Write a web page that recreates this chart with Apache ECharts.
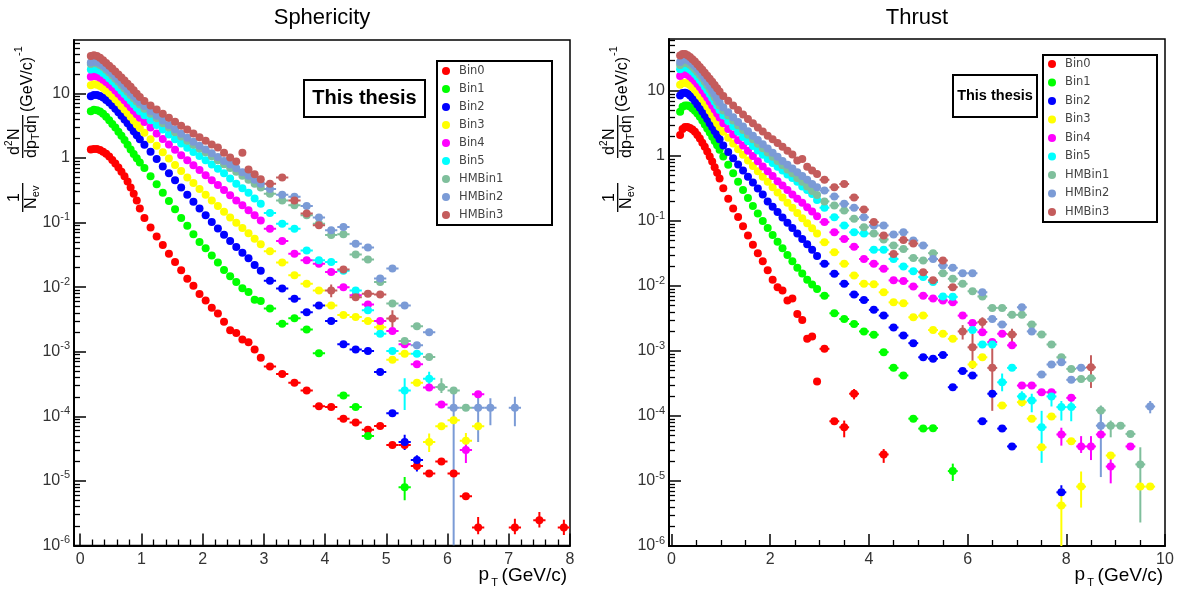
<!DOCTYPE html>
<html><head><meta charset="utf-8">
<script src="https://cdn.jsdelivr.net/npm/echarts@6/dist/echarts.min.js"></script>
<style>html,body{margin:0;padding:0;background:#fff}#c{width:1184px;height:597px}</style>
</head><body><div id="c"></div>
<script>
const FONT = '"Liberation Sans", Arial, Helvetica, sans-serif';
const LEGFONT = '"DejaVu Sans", sans-serif';

const seriesNames = ['Bin0','Bin1','Bin2','Bin3','Bin4','Bin5','HMBin1','HMBin2','HMBin3'];
const seriesColors = ['#ff0000','#00ff00','#0000ff','#ffff00','#ff00ff','#00ffff','#7fbf9c','#7b9bd6','#c45c5c'];

// pT bin centres (GeV/c)
const ptCenters = [0.175,0.225,0.275,0.325,0.375,0.425,0.475,0.525,0.575,0.625,0.675,0.725,0.775,0.825,0.875,0.925,0.975,
1.05,1.15,1.25,1.35,1.45,1.55,1.65,1.75,1.85,1.95,2.05,2.15,2.25,2.35,2.45,2.55,2.65,2.75,2.85,2.95,
3.1,3.3,3.5,3.7,3.9,4.1,4.3,4.5,4.7,4.9,5.1,5.3,5.5,5.7,5.9,6.1,6.3,6.5,6.7,6.9,7.1,7.3,7.5,7.7,7.9,8.1,8.3,8.5,8.7,8.9,9.1,9.3,9.5,9.7];

// ---- Sphericity panel ----
const sphBin0 = [1.35,1.38,1.37,1.33,1.25,1.16,1.05,0.93,0.82,0.71,0.61,0.52,0.43,0.35,0.28,0.22,0.165,
0.118,0.084,0.061,0.045,0.033,0.0245,0.0183,0.0135,0.0105,0.0078,0.0062,0.0048,0.0039,0.0029,0.00215,0.00195,0.00154,0.0014,0.00108,8.1e-4,
5.9e-4,4.5e-4,3.3e-4,2.5e-4,1.43e-4,1.39e-4,9.2e-5,8.0e-5,6.2e-5,7.1e-5,3.6e-5,3.6e-5,1.7e-5,1.3e-5,2.0e-5,1.3e-5,5.8e-6,1.9e-6,null,null,1.9e-6,null,2.45e-6,null,1.9e-6];
const sphBin1 = [5.3,5.55,5.5,5.25,4.85,4.35,3.85,3.35,2.95,2.55,2.2,1.9,1.6,1.35,1.15,0.99,0.85,
0.7,0.52,0.39,0.29,0.215,0.16,0.118,0.089,0.066,0.05,0.04,0.031,0.024,0.0185,0.0147,0.012,0.0096,0.0084,0.0064,0.0061,
0.00465,0.0027,0.0033,0.0022,9.5e-4,null,2.1e-4,1.39e-4,4.95e-5,null,null,8e-6];
const sphBin2 = [9.0,9.4,9.4,9.1,8.6,7.9,7.2,6.5,5.8,5.1,4.5,3.95,3.45,3.0,2.6,2.25,1.95,
1.6,1.25,0.96,0.74,0.58,0.45,0.35,0.27,0.21,0.165,0.13,0.102,0.081,0.065,0.052,0.042,0.034,0.028,0.022,0.018,
0.0125,0.0095,0.0066,0.0041,0.0052,0.003,0.0013,0.00108,0.00103,4.85e-4,1.12e-4,4e-5,2.1e-5];
const sphBin3 = [13.4,13.8,13.6,13.0,12.1,11.1,10.1,9.1,8.1,7.2,6.4,5.6,4.95,4.35,3.8,3.3,2.9,
2.45,1.95,1.55,1.23,0.98,0.78,0.63,0.5,0.41,0.33,0.27,0.22,0.18,0.147,0.12,0.099,0.082,0.068,0.056,0.046,
0.036,0.024,0.0153,0.0113,0.0089,0.0052,0.0037,0.00345,0.003,0.0024,7.5e-4,9.3e-4,3.3e-4,4e-5,7e-5,8.7e-5,4.2e-5,7e-5];
const sphBin4 = [18,18.6,18.3,17.5,16.3,15.0,13.7,12.4,11.1,9.9,8.8,7.8,6.9,6.1,5.4,4.75,4.2,
3.6,2.95,2.4,1.97,1.62,1.34,1.1,0.92,0.77,0.65,0.54,0.45,0.38,0.32,0.265,0.22,0.185,0.155,0.13,0.108,
0.08,0.052,0.033,0.026,0.023,0.0172,0.01,0.0075,0.0054,0.003,0.0021,0.0013,6.4e-4,2.8e-4,1.53e-4,null,3e-5,2.2e-4];
const sphBin5 = [23.4,24.0,23.5,22.3,20.7,19.0,17.2,15.5,13.9,12.4,11.0,9.8,8.7,7.7,6.8,6.0,5.3,
4.6,3.85,3.25,2.75,2.3,1.95,1.68,1.44,1.24,1.07,0.92,0.79,0.68,0.58,0.48,0.4,0.34,0.29,0.235,0.195,
0.14,0.096,0.08,0.037,0.026,0.0245,0.018,0.0089,0.0044,0.0019,0.00103,2.5e-4,9.3e-4,3.8e-4];
const sphHMBin1 = [28.5,29.5,29,27.6,25.5,23.2,21.0,18.9,16.9,15.1,13.4,11.9,10.6,9.4,8.4,7.5,6.7,
5.8,4.85,4.1,3.45,2.95,2.5,2.15,1.85,1.6,1.4,1.22,1.06,0.92,0.8,0.7,0.61,0.53,0.46,0.4,0.35,
0.28,0.22,0.185,0.13,0.096,0.064,0.066,0.032,0.0267,0.012,0.0056,0.00147,0.00247,8.3e-4,2.84e-4,2.52e-4,1.36e-4];
const sphHMBin2 = [30,31,30.5,29.2,27.1,24.8,22.6,20.4,18.3,16.4,14.6,13.0,11.6,10.3,9.2,8.2,7.3,
6.35,5.3,4.5,3.8,3.25,2.78,2.38,2.05,1.78,1.55,1.35,1.18,1.03,0.9,0.79,0.69,0.6,0.53,0.46,0.4,
0.33,0.27,0.25,0.18,0.12,0.076,0.085,0.047,0.041,0.0136,0.0194,0.0052,0.00126,0.002,null,1.36e-4,null,1.36e-4,1.36e-4,null,1.36e-4];
const sphHMBin3 = [38,39,38,35.5,32.5,29.5,26.8,24.2,21.8,19.6,17.6,15.8,14.1,12.6,11.2,9.9,8.8,
7.6,6.5,5.6,4.85,4.2,3.65,3.15,2.75,2.4,2.1,1.85,1.62,1.45,1.2,1.02,0.88,1.2,0.66,0.56,0.47,
0.4,0.5,0.22,0.138,0.091,0.0089,0.0187,0.007,0.0079,0.0077,0.00326];
// visible vertical error bars: [series, pT, low, high]
const sphErrors = [
['Bin0',6.5,1.5e-6,2.75e-6],['Bin0',7.1,1.5e-6,2.6e-6],['Bin0',7.5,1.9e-6,3.3e-6],['Bin0',7.9,1.45e-6,2.5e-6],
['Bin1',5.3,5e-6,1.15e-5],
['Bin2',5.3,3.0e-5,5.2e-5],['Bin2',5.5,1.4e-5,2.5e-5],
['Bin3',5.7,2.8e-5,5.4e-5],['Bin3',6.3,3.1e-5,5.5e-5],
['Bin4',6.3,1.9e-5,4.2e-5],
['Bin5',5.3,1.25e-4,3.9e-4],['Bin5',5.7,2.8e-4,4.9e-4],
['HMBin1',5.9,2.3e-4,3.9e-4],
['HMBin2',6.1,1e-6,2.5e-4],['HMBin2',6.5,4e-5,2.3e-4],['HMBin2',6.7,7.3e-5,1.9e-4],['HMBin2',7.1,7e-5,2.0e-4],
['HMBin3',4.1,7e-3,1.1e-2],['HMBin3',5.1,2.4e-3,4.4e-3]
];

// ---- Thrust panel ----
const thrBin0 = [2.1,2.6,2.8,2.8,2.7,2.55,2.35,2.1,1.85,1.6,1.38,1.17,0.98,0.82,0.67,0.55,0.45,
0.32,0.22,0.155,0.115,0.083,0.06,0.043,0.032,0.024,0.0175,0.0125,0.0096,0.0085,0.006,0.0064,0.0037,0.003,0.00154,0.00167,3.4e-4,
0.00108,8.3e-5,6.7e-5,2.2e-4,null,null,2.56e-5];
const thrBin1 = [4.8,5.7,6.0,6.0,5.75,5.35,4.95,4.5,4.0,3.5,3.05,2.65,2.3,1.98,1.7,1.46,1.25,
0.98,0.73,0.54,0.4,0.3,0.225,0.17,0.13,0.1,0.078,0.061,0.048,0.038,0.03,0.024,0.019,0.0155,0.0125,0.0105,0.009,
0.0071,0.0038,0.0031,0.0026,0.002,0.00178,9.6e-4,5.5e-4,4.2e-4,9.1e-5,6.4e-5,6.5e-5,null,1.42e-5];
const thrBin2 = [8.5,9.3,9.4,9.1,8.5,7.8,7.0,6.2,5.5,4.85,4.25,3.7,3.2,2.8,2.42,2.1,1.8,
1.45,1.15,0.92,0.74,0.6,0.48,0.39,0.315,0.255,0.2,0.165,0.137,0.113,0.094,0.078,0.064,0.053,0.044,0.036,0.029,
0.022,0.0154,0.0108,0.0074,0.0061,0.0043,0.0035,0.0023,0.00173,0.00132,8e-4,7.6e-4,8.7e-4,2.77e-4,4.9e-4,4.2e-4,8.3e-5,2.2e-4,6.4e-5,3.4e-5,null,null,null,null,6.7e-6];
const thrBin3 = [12.5,13.3,13.4,13.0,12.3,11.4,10.4,9.4,8.4,7.5,6.6,5.75,4.95,4.3,3.7,3.2,2.8,
2.35,1.9,1.55,1.27,1.04,0.85,0.7,0.58,0.48,0.4,0.33,0.275,0.23,0.19,0.16,0.133,0.11,0.092,0.077,0.064,
0.047,0.033,0.022,0.0145,0.0108,0.0106,0.008,0.0056,0.0054,0.0033,0.0035,0.0021,0.00184,0.00154,null,6.2e-4,8e-4,null,1.45e-4,null,1.63e-4,9.1e-5,3.3e-5,9.8e-5,4.2e-6,4.1e-5,8.2e-6,null,null,2.47e-5,null,null,8.2e-6,8.2e-6];
const thrBin4 = [17.0,18.0,18.2,17.7,16.7,15.5,14.2,12.8,11.5,10.2,9.0,7.9,6.9,6.0,5.2,4.5,3.9,
3.2,2.6,2.13,1.75,1.45,1.2,1.0,0.83,0.69,0.58,0.49,0.41,0.35,0.3,0.255,0.22,0.19,0.163,0.14,0.118,
0.096,0.067,0.053,0.04,0.026,0.022,0.0184,0.0122,0.0119,0.0098,0.0071,0.0064,0.006,0.0056,0.0035,0.0027,0.00195,0.00137,0.00184,0.00122,2.94e-4,2.94e-4,2.32e-4,2.32e-4,5.2e-5,1.9e-4,3.4e-5,3.4e-5,5.2e-5,1.67e-5,null,3.4e-5];
const thrBin5 = [21.5,23,23.2,22.6,21.4,19.9,18.2,16.5,14.8,13.2,11.7,10.3,9.0,7.8,6.8,5.9,5.1,
4.2,3.45,2.85,2.35,1.95,1.68,1.42,1.21,1.04,0.9,0.78,0.68,0.6,0.52,0.46,0.4,0.34,0.3,0.26,0.21,
0.16,0.114,0.085,0.067,0.064,0.036,0.036,0.026,0.02,0.0169,0.0137,0.0115,0.0069,0.0068,null,0.0021,0.00126,0.00126,3.3e-4,5.5e-4,2e-4,1.73e-4,6.7e-5,2e-4,1.37e-4,1.37e-4];
const thrHMBin1 = [25,27,27.5,26.8,25.3,23.5,21.6,19.6,17.6,15.7,13.9,12.2,10.6,9.2,8.0,6.9,6.0,
5.0,4.2,3.5,2.95,2.5,2.12,1.8,1.54,1.32,1.13,0.97,0.84,0.72,0.62,0.54,0.46,0.4,0.34,0.29,0.25,
0.2,0.173,0.145,0.108,0.08,0.064,0.052,0.042,0.037,0.027,0.0247,0.032,0.0157,0.0129,0.0108,0.0083,0.0069,0.0046,0.0046,0.0036,0.0036,0.00256,0.0018,0.00126,8e-4,5.3e-4,3.7e-4,3.8e-4,1.22e-4,7.1e-5,7.1e-5,5.3e-5,1.8e-5];
const thrHMBin2 = [28,30.2,30.8,30.0,28.3,26.3,24.2,22.0,19.7,17.6,15.6,13.7,11.9,10.3,9.0,7.7,6.7,
5.6,4.7,3.95,3.33,2.83,2.4,2.05,1.76,1.51,1.3,1.12,0.97,0.84,0.73,0.64,0.56,0.49,0.43,0.37,0.33,
0.294,0.238,0.184,0.16,0.114,0.085,0.085,0.062,0.067,0.05,0.042,0.026,0.0207,0.019,0.0157,0.0157,0.008,0.0031,0.00256,null,0.0047,0.002,4.35e-4,6.2e-4,6.7e-4,3.6e-4,5.5e-4,null,7.1e-5,null,null,null,null,1.4e-4];
const thrHMBin3 = [35,37,37,35.5,33.3,30.8,28.3,25.8,23.4,21.2,19.1,17.2,15.4,13.8,12.3,11.0,9.8,
8.4,7.1,6.0,5.1,4.35,3.7,3.2,2.75,2.37,2.05,1.8,1.58,1.38,1.2,1.05,0.85,0.9,0.68,0.6,0.53,
0.43,0.33,0.37,0.23,0.15,0.096,0.06,0.031,0.051,0.045,0.0163,0.0122,0.0247,0.0096,0.002,0.00114,0.0028,5.5e-4,null,0.0018,null,null,null,null,null,null,null,5.6e-4];
const thrErrors = [
['Bin0',3.5,4.7e-5,8.5e-5],['Bin0',4.3,1.9e-5,3.1e-5],['Bin0',3.7,1.8e-4,2.6e-4],
['Bin1',5.7,1.0e-5,1.85e-5],
['Bin2',7.9,6.0e-6,8.6e-6],
['Bin3',7.9,1.0e-6,7.7e-6],['Bin3',8.3,3.9e-6,1.4e-5],
['Bin4',7.9,3.5e-5,6.6e-5],['Bin4',8.3,2.7e-5,4.9e-5],['Bin4',8.5,2.1e-5,4.9e-5],['Bin4',8.9,9.2e-6,2.5e-5],
['Bin5',6.7,2.4e-4,4.5e-4],['Bin5',7.1,1.4e-4,2.4e-4],['Bin5',7.3,1.14e-4,2.2e-4],['Bin5',7.5,1.9e-5,1.2e-4],['Bin5',7.7,1.4e-4,2.4e-4],['Bin5',7.9,8.5e-5,1.7e-4],['Bin5',8.1,8.3e-5,1.9e-4],
['HMBin1',8.7,8.0e-5,1.45e-4],['HMBin1',8.9,4.7e-5,8.5e-5],['HMBin1',9.5,2.3e-6,3.3e-5],
['HMBin2',8.7,1.15e-5,1.4e-4],['HMBin2',9.7,1.1e-4,1.7e-4],
['HMBin3',5.9,1.5e-3,2.5e-3],['HMBin3',6.1,5.3e-4,1.85e-3],['HMBin3',6.3,2.2e-3,3.3e-3],['HMBin3',6.5,1.2e-4,1.1e-3],['HMBin3',6.9,1.2e-3,2.2e-3],['HMBin3',8.5,2.7e-4,8.6e-4]
];

// axis ticks
const sphXTicks = [0,1,2,3,4,5,6,7,8];
const thrXTicks = [0,2,4,6,8,10];
const yTicks = [1e-6,1e-5,1e-4,1e-3,1e-2,1e-1,1,10];

const sphValues = [sphBin0,sphBin1,sphBin2,sphBin3,sphBin4,sphBin5,sphHMBin1,sphHMBin2,sphHMBin3];
const thrValues = [thrBin0,thrBin1,thrBin2,thrBin3,thrBin4,thrBin5,thrHMBin1,thrHMBin2,thrHMBin3];

function halfWidth(x){ return x < 1 ? 0.025 : (x < 3 ? 0.05 : 0.1); }
function minorTicks(lo, hi, step, major){
  const out = [];
  for (let v = lo; v <= hi + 1e-9; v += step){ const r = Math.round(v*100)/100; if (major.indexOf(r) < 0) out.push(r); }
  return out;
}
function logMinor(maxV){
  const out = [];
  for (let e = -6; e <= 1; e++) for (let m = 2; m <= 9; m++){ const v = Number((m*Math.pow(10,e)).toPrecision(3)); if (v <= maxV) out.push(v); }
  return out;
}
function yLabel(v){
  const e = Math.round(Math.log10(v));
  if (e === 0) return '{b|1}';
  if (e === 1) return '{b|10}';
  return '{b|10}{s|' + e + '}';
}
const yRich = { b:{fontSize:16, fontFamily:FONT, color:'#333', lineHeight:22}, s:{fontSize:11, fontFamily:FONT, color:'#333', lineHeight:11, verticalAlign:'top'} };

function xAxes(grid, min, max, major, minorStep){
  return [
    {gridIndex:grid, type:'value', position:'bottom', min:min, max:max,
     axisLine:{show:true, onZero:false, lineStyle:{color:'#000', width:2}},
     axisTick:{show:true, inside:true, length:12, customValues:major, lineStyle:{color:'#000', width:1.5}},
     axisLabel:{show:true, customValues:major, fontSize:16, fontFamily:FONT, color:'#333', margin:6},
     splitLine:{show:false}},
    {gridIndex:grid, type:'value', position:'bottom', min:min, max:max,
     axisLine:{show:false, onZero:false},
     axisTick:{show:true, inside:true, length:6, customValues:minorTicks(0, max, minorStep, major), lineStyle:{color:'#000', width:1.3}},
     axisLabel:{show:false}, splitLine:{show:false}}
  ];
}
function yAxes(grid, maxV){
  return [
    {gridIndex:grid, type:'log', logBase:10, position:'left', min:1e-6, max:maxV,
     axisLine:{show:true, onZero:false, lineStyle:{color:'#000', width:2}},
     axisTick:{show:true, inside:true, length:12, customValues:yTicks, lineStyle:{color:'#000', width:1.5}},
     axisLabel:{show:true, customValues:yTicks, formatter:yLabel, rich:yRich, margin:4},
     splitLine:{show:false}},
    {gridIndex:grid, type:'log', logBase:10, position:'left', min:1e-6, max:maxV,
     axisLine:{show:false, onZero:false},
     axisTick:{show:true, inside:true, length:6, customValues:logMinor(maxV), lineStyle:{color:'#000', width:1.3}},
     axisLabel:{show:false}, splitLine:{show:false}}
  ];
}

function renderErr(params, api){
  const x = api.value(0), y = api.value(1), lo = api.value(2), hi = api.value(3), hw = api.value(4);
  const c = api.visual('color');
  const p = api.coord([x, y]);
  const a = api.coord([x - hw, y]), b = api.coord([x + hw, y]);
  const kids = [{type:'line', shape:{x1:a[0], y1:p[1], x2:b[0], y2:p[1]}, style:{stroke:c, lineWidth:2}}];
  if (lo > 0 && hi > 0){
    const t = api.coord([x, hi]), u = api.coord([x, lo]);
    kids.push({type:'line', shape:{x1:p[0], y1:t[1], x2:p[0], y2:u[1]}, style:{stroke:c, lineWidth:2}});
  }
  return {type:'group', children:kids};
}

const scatterSeries = [], errSeries = [];
function buildPanel(values, errs, axisIdx){
  values.forEach(function(arr, i){
    const name = seriesNames[i];
    const pts = [], eb = [];
    arr.forEach(function(v, k){
      if (v == null) return;
      const x = ptCenters[k];
      pts.push([x, v]);
      const e = errs.find(function(r){ return r[0] === name && Math.abs(r[1] - x) < 1e-6; });
      eb.push([x, v, e ? e[2] : 0, e ? e[3] : 0, halfWidth(x)]);
    });
    scatterSeries.push({type:'scatter', name:name, xAxisIndex:axisIdx, yAxisIndex:axisIdx, data:pts,
      symbol:'circle', symbolSize:8, itemStyle:{color:seriesColors[i], opacity:1}, z:3,
      emphasis:{disabled:true}, animation:false});
    errSeries.push({type:'custom', name:name, xAxisIndex:axisIdx, yAxisIndex:axisIdx, data:eb,
      encode:{x:0, y:1}, renderItem:renderErr, itemStyle:{color:seriesColors[i]}, z:2, clip:true, silent:true, animation:false});
  });
}
buildPanel(sphValues, sphErrors, 0);
buildPanel(thrValues, thrErrors, 2);

function legendFor(left, top, padTop, gap){
  return {orient:'vertical', left:left, top:top, padding:[padTop,4,4,5], itemWidth:16, itemHeight:8, itemGap:gap,
    icon:'circle', selectedMode:false,
    data:seriesNames.map(function(n){ return {name:n, icon:'circle'}; }),
    textStyle:{fontSize:11.5, fontFamily:LEGFONT, color:'#444', lineHeight:12}};
}

function yTitle(ax){
  const T = function(txt, x, y, size, align){ return {type:'text', x:x, y:y, style:{text:txt, font:size+'px '+FONT, fill:'#000', align:align||'left', textAlign:align||'left', verticalAlign:'middle', textVerticalAlign:'middle'}}; };
  return {type:'group', x:ax, y:215, rotation:Math.PI/2, children:[
    T('1', 17.5, -8, 16, 'center'),
    {type:'line', shape:{x1:3, y1:0, x2:32, y2:0}, style:{stroke:'#000', lineWidth:1.3}},
    T('N', 6, 9, 16), T('ev', 17.8, 13, 11),
    T('d', 60, -8, 16), T('2', 69, -13, 10), T('N', 75, -8, 16),
    {type:'line', shape:{x1:57, y1:0, x2:100, y2:0}, style:{stroke:'#000', lineWidth:1.3}},
    T('dp', 57, 9, 16), T('T', 75, 13, 11), T('d\u03b7', 82, 9, 16),
    T('(GeV/c)', 103, 5, 16), T('-1', 159, -4, 11)
  ]};
}
function xTitle(right){
  const T = function(txt, x, y, size, align){ return {type:'text', x:x, y:y, style:{text:txt, font:size+'px '+FONT, fill:'#000', align:align, textAlign:align, verticalAlign:'middle', textVerticalAlign:'middle'}}; };
  return [T('(GeV/c)', right, 576, 19, 'right'), T('T', right - 69, 583, 11, 'right'), T('p', right - 78, 575, 19, 'right')];
}
function box(x, y, w, h){ return {type:'rect', shape:{x:x, y:y, width:w, height:h}, style:{fill:'#fff', stroke:'#000', lineWidth:2}}; }

const graphics = [
  {type:'text', x:322, y:18, style:{text:'Sphericity', font:'22px '+FONT, fill:'#000', align:'center', textAlign:'center', verticalAlign:'middle', textVerticalAlign:'middle'}},
  {type:'text', x:917, y:18, style:{text:'Thrust', font:'22px '+FONT, fill:'#000', align:'center', textAlign:'center', verticalAlign:'middle', textVerticalAlign:'middle'}},
  box(304, 80, 121, 37),
  {type:'text', x:364.5, y:98.5, style:{text:'This thesis', font:'bold 20px '+FONT, fill:'#000', align:'center', textAlign:'center', verticalAlign:'middle', textVerticalAlign:'middle'}},
  box(953, 75, 84, 42),
  {type:'text', x:995, y:96, style:{text:'This thesis', font:'bold 14.5px '+FONT, fill:'#000', align:'center', textAlign:'center', verticalAlign:'middle', textVerticalAlign:'middle'}},
  box(437, 61, 115, 164),
  box(1043, 55, 114, 167),
  yTitle(22.7), yTitle(617.7)
].concat(xTitle(567), xTitle(1163));

const chart = echarts.init(document.getElementById('c'), null, {renderer:'canvas'});
chart.setOption({
  animation:false,
  backgroundColor:'#fff',
  grid:[
    {left:74, top:40, width:496, height:505.5, show:true, borderColor:'#000', borderWidth:1.5, backgroundColor:'transparent'},
    {left:669, top:39, width:496, height:507, show:true, borderColor:'#000', borderWidth:1.5, backgroundColor:'transparent'}
  ],
  xAxis: xAxes(0, -0.1, 8, sphXTicks, 0.2).concat(xAxes(1, -0.05, 10, thrXTicks, 0.5)),
  yAxis: yAxes(0, 67).concat(yAxes(1, 63)),
  legend:[legendFor(437, 61, 4, 6), legendFor(1043, 55, 3, 6.5)],
  graphic: graphics,
  series: scatterSeries.concat(errSeries)
});
</script>
</body></html>
